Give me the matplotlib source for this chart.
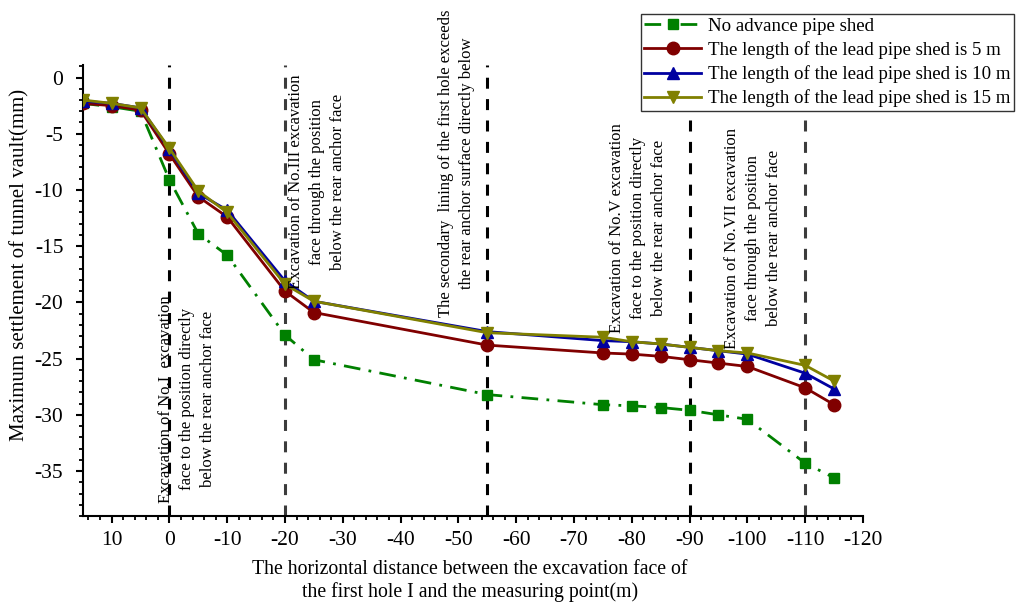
import matplotlib
matplotlib.use("Agg")
import matplotlib.pyplot as plt
from matplotlib.ticker import MultipleLocator

plt.rcParams['font.family'] = ['Liberation Serif', 'DejaVu Serif']
plt.rcParams['axes.unicode_minus'] = False

# distance between excavation face of hole I and measuring point (m)
distance = [15, 10, 5, 0, -5, -10, -20, -25, -55, -75, -80, -85, -90, -95, -100, -110, -115]

# maximum settlement of tunnel vault (mm)
no_pipe_shed = [-2.3, -2.6, -3.0, -9.1, -13.9, -15.8, -22.9, -25.1, -28.2, -29.1, -29.2,
                -29.35, -29.6, -30.0, -30.4, -34.3, -35.6]
shed_5m = [-2.3, -2.5, -2.9, -6.8, -10.6, -12.4, -19.0, -20.9, -23.8, -24.5, -24.6,
           -24.8, -25.1, -25.4, -25.7, -27.6, -29.1]
shed_10m = [-2.1, -2.3, -2.7, -6.4, -10.3, -11.8, -18.1, -19.9, -22.6, -23.4, -23.5,
            -23.7, -24.0, -24.3, -24.6, -26.3, -27.7]
shed_15m = [-2.0, -2.3, -2.7, -6.3, -10.1, -12.0, -18.4, -19.9, -22.7, -23.1, -23.5,
            -23.7, -24.0, -24.3, -24.5, -25.6, -27.0]

series_labels = ["No advance pipe shed",
                 "The length of the lead pipe shed is 5 m",
                 "The length of the lead pipe shed is 10 m",
                 "The length of the lead pipe shed is 15 m"]

# construction milestones (x position, colour) and their descriptions
milestone_x = [0, -20, -55, -90, -110]
milestone_colors = ['#000000', '#3c3c3c', '#000000', '#000000', '#3c3c3c']

notes = [
    (-3.0, -28.6, "Excavation of No.I  excavation\nface to the position directly\nbelow the rear anchor face"),
    (-25.6, -9.3, "Excavation of No.III excavation\nface through the position\nbelow the rear anchor face"),
    (-49.7, -7.6, "The secondary  lining of the first hole exceeds\nthe rear anchor surface directly below"),
    (-81.0, -13.4, "Excavation of No.V excavation\nface to the position directly\nbelow the rear anchor face"),
    (-101.0, -14.3, "Excavation of No.VII excavation\nface through the position\nbelow the rear anchor face"),
]

fig = plt.figure(figsize=(10.16, 6.06), dpi=100)
ax = fig.add_axes([0.0814, 0.1485, 0.768, 0.744])

for xv, col in zip(milestone_x, milestone_colors):
    ax.axvline(xv, color=col, lw=2.2, dashes=(3.6, 3.4), zorder=1)

ax.plot(distance, no_pipe_shed, color='#008000', lw=2.0, dashes=(6, 3, 1, 3),
        marker='s', ms=7.5, label=series_labels[0], zorder=3)
ax.plot(distance, shed_5m, color='#800000', lw=2.0, marker='o', ms=9,
        label=series_labels[1], zorder=4)
ax.plot(distance, shed_10m, color='#0000a0', lw=2.0, marker='^', ms=9,
        label=series_labels[2], zorder=5)
ax.plot(distance, shed_15m, color='#808000', lw=2.0, marker='v', ms=9,
        label=series_labels[3], zorder=6)

for xv, yv, txt in notes:
    ax.text(xv, yv, txt, rotation=90, ha='center', va='center',
            multialignment='center', fontsize=12, linespacing=1.42, zorder=7)

ax.set_xlim(15, -120)
ax.set_ylim(-39, 1.1)
ax.xaxis.set_major_locator(MultipleLocator(10))
ax.xaxis.set_minor_locator(MultipleLocator(2))
ax.yaxis.set_major_locator(MultipleLocator(5))
ax.yaxis.set_minor_locator(MultipleLocator(1))
ax.tick_params(which='major', direction='out', length=5, width=1.5, labelsize=15.5)
ax.tick_params(which='minor', direction='out', length=3, width=1.3)
ax.tick_params(axis='x', which='major', pad=6)
ax.tick_params(axis='y', which='major', pad=9)
ax.spines['top'].set_visible(False)
ax.spines['right'].set_visible(False)
for s in ('left', 'bottom'):
    ax.spines[s].set_linewidth(1.5)

ax.set_xlabel("The horizontal distance between the excavation face of\nthe first hole I and the measuring point(m)",
              fontsize=14.2, linespacing=1.2)
ax.xaxis.set_label_coords(0.496, -0.097)
ax.set_ylabel("Maximum settlement of tunnel vault(mm)", fontsize=15)
ax.yaxis.set_label_coords(-0.068, 0.556)

leg = fig.legend(loc='upper right', bbox_to_anchor=(0.998, 0.977), fontsize=13.6,
                 frameon=True, fancybox=False, framealpha=1, borderpad=0.2,
                 labelspacing=0.33, handlelength=3.0, handletextpad=0.35, borderaxespad=0)
leg.get_frame().set_edgecolor('#333333')
leg.get_frame().set_linewidth(1.0)

fig.savefig("out.png", dpi=100)
